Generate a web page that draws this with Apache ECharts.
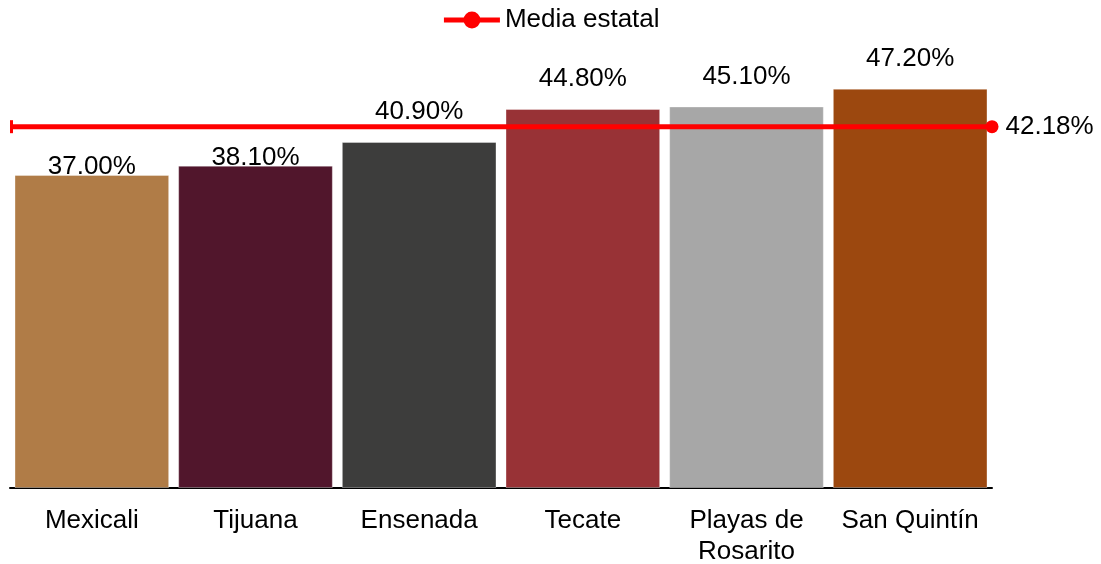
<!DOCTYPE html>
<html>
<head>
<meta charset="utf-8">
<style>
  html, body { margin: 0; padding: 0; background: #fff; }
  #chart { width: 1101px; height: 564px; }
</style>
<script src="https://cdn.jsdelivr.net/npm/echarts@6/dist/echarts.min.js"></script>
</head>
<body>
<div id="chart"></div>
<script>
// municipios y porcentajes
const municipios = ['Mexicali', 'Tijuana', 'Ensenada', 'Tecate', 'Playas de\nRosarito', 'San Quintín']
const porcentajes = [37.0, 38.1, 40.9, 44.8, 45.1, 47.2]
const colores = ['#B07C47', '#51162C', '#3D3D3C', '#983236', '#A7A7A7', '#9C480F']
// Excel moved the first two labels down onto the bar
const distanciaEtiqueta = [-5, -5, 17, 17, 17, 17]
const mediaEstatal = 42.18

const font = "'Liberation Sans', Arial, sans-serif"

const chart = echarts.init(document.getElementById('chart'))

const barData = porcentajes.map((v, i) => ({
  value: v,
  itemStyle: { color: colores[i] },
  label: { distance: distanciaEtiqueta[i] },
}))

const option = {
  animation: false,
  textStyle: { fontFamily: font },
  legend: {
    data: ['Media estatal'],
    top: 2,
    left: 'center',
    itemWidth: 56,
    itemHeight: 21,
    lineStyle: { width: 5 },
    textStyle: { fontSize: 26, color: '#000', fontFamily: font },
  },
  grid: { left: 10, right: 109, top: 65, bottom: 76, outerBoundsMode: 'none' },
  xAxis: [
    {
      type: 'category',
      data: municipios,
      axisLine: { lineStyle: { color: '#000', width: 2 } },
      axisTick: { show: false },
      axisLabel: {
        fontSize: 26,
        color: '#000',
        lineHeight: 31,
        margin: 17,
        interval: 0,
        fontFamily: font,
      },
    },
    {
      type: 'category',
      data: ['a', 'b'],
      boundaryGap: false,
      show: false,
    },
  ],
  yAxis: [
    { type: 'value', min: 0, max: 50, show: false },
    { type: 'value', min: 0, max: 49.38, show: false },
  ],
  series: [
    {
      name: 'Porcentaje',
      type: 'bar',
      data: barData,
      barCategoryGap: '5.5%',
      itemStyle: { borderColor: 'rgba(255,255,255,0.35)', borderWidth: 1 },
      label: {
        show: true,
        position: 'top',
        fontSize: 26,
        color: '#000',
        fontFamily: font,
        formatter: (p) => p.value.toFixed(2) + '%',
      },
    },
    {
      name: 'Media estatal',
      type: 'line',
      xAxisIndex: 1,
      yAxisIndex: 1,
      clip: false,
      symbol: 'circle',
      symbolSize: 13,
      lineStyle: { color: '#FF0000', width: 5 },
      itemStyle: { color: '#FF0000' },
      data: [
        { value: mediaEstatal, symbol: 'rect', symbolSize: [3, 13], symbolOffset: [1.5, 0] },
        {
          value: mediaEstatal,
          label: {
            show: true,
            position: 'right',
            distance: 7,
            fontSize: 26,
            color: '#000',
            fontFamily: font,
            formatter: (p) => p.value.toFixed(2) + '%',
          },
        },
      ],
    },
  ],
}

chart.setOption(option)
window.addEventListener('resize', () => chart.resize())
</script>
</body>
</html>
